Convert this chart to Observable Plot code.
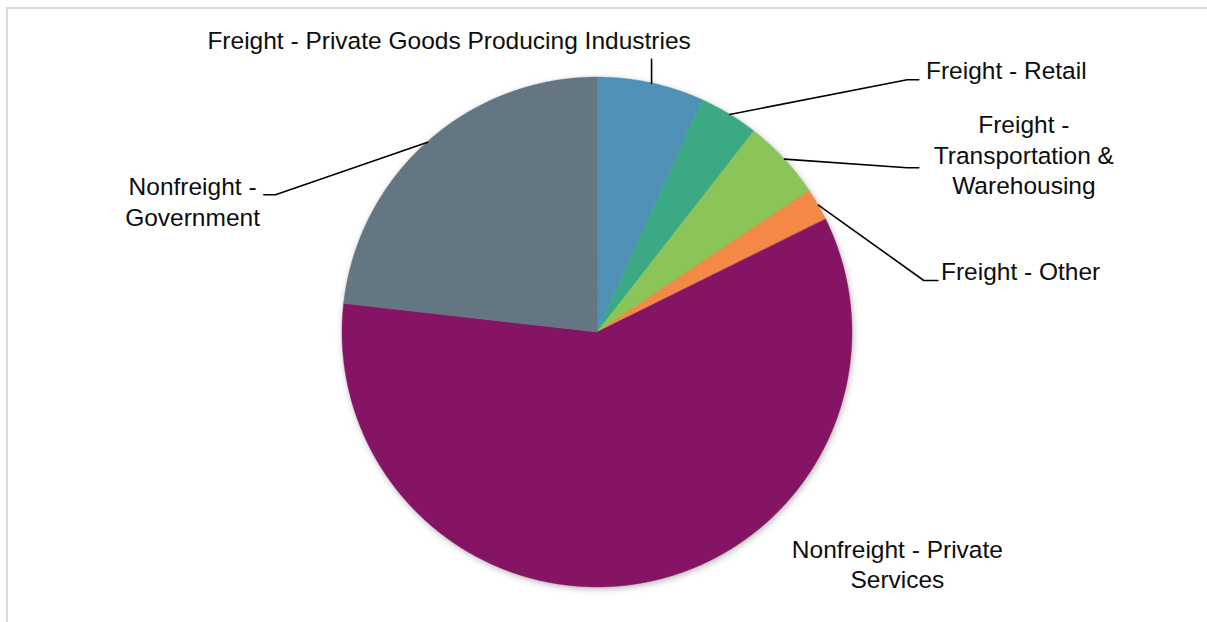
<!DOCTYPE html>
<html>
<head>
<meta charset="utf-8">
<script src="https://cdn.jsdelivr.net/npm/d3@7"></script>
<script src="https://cdn.jsdelivr.net/npm/@observablehq/plot@0.6"></script>
<style>
  html, body { margin: 0; padding: 0; background: #fff; }
  #wrap { position: relative; width: 1207px; height: 622px; overflow: hidden; }
  #frame { position: absolute; left: 6px; top: 7px; right: -10px; bottom: -10px;
           border-left: 2px solid #d9d9d9; border-top: 2px solid #d9d9d9; }
  #chart { position: absolute; left: 0; top: 0; }
</style>
</head>
<body>
<div id="wrap"><div id="frame"></div><div id="chart"></div></div>
<script>
// ---- data ----
const categories = [
  "Freight - Private Goods Producing Industries",
  "Freight - Retail",
  "Freight - Transportation & Warehousing",
  "Freight - Other",
  "Nonfreight - Private Services",
  "Nonfreight - Government"
];
const shares = [6.8, 3.75, 5.1, 2.05, 59.1, 23.2];
const labelTexts = [
  "Freight - Private Goods Producing Industries",
  "Freight - Retail",
  "Freight -\nTransportation &\nWarehousing",
  "Freight - Other",
  "Nonfreight - Private\nServices",
  "Nonfreight -\nGovernment"
];
const colors = ["#4f91b6", "#3baa84", "#8bc55a", "#f48847", "#851465", "#637681"];

// ---- layout (unit-radius coordinates, y up) ----
const labelPos = [
  {x: -0.582, y: 1.149, anchor: "middle"},
  {x: 1.288, y: 1.033, anchor: "start"},
  {x: 1.672, y: 0.700, anchor: "middle"},
  {x: 1.347, y: 0.242, anchor: "start"},
  {x: 1.176, y: -0.905, anchor: "middle"},
  {x: -1.588, y: 0.517, anchor: "middle"}
];
const leaderPaths = [
  [{fromEdgeX: true, y: 1.071}],
  [{x: 1.2145, y: 0.991}, {x: 1.260, y: 0.991}],
  [{x: 1.2145, y: 0.646}, {x: 1.260, y: 0.646}],
  [{x: 1.2797, y: 0.204}, {x: 1.3346, y: 0.204}],
  null,
  [{x: -1.2627, y: 0.540}, {x: -1.3086, y: 0.540}]
];

// ---- geometry from data ----
const total = d3.sum(shares);
let cum = 0;
const slices = categories.map((name, i) => {
  const a0 = cum / total * 2 * Math.PI;
  cum += shares[i];
  const a1 = cum / total * 2 * Math.PI;
  return {name, a0, a1, mid: (a0 + a1) / 2};
});

const arcPts = [];
for (const s of slices) {
  const n = Math.max(2, Math.ceil((s.a1 - s.a0) / (Math.PI / 720)));
  for (let k = 0; k <= n; k++) {
    const a = s.a0 + (s.a1 - s.a0) * k / n;
    arcPts.push({name: s.name, x: Math.sin(a), y: Math.cos(a), cx: 0, cy: 0});
  }
}

const leaderPts = [];
slices.forEach((s, i) => {
  const path = leaderPaths[i];
  if (!path) return;
  const ex = Math.sin(s.mid), ey = Math.cos(s.mid);
  leaderPts.push({name: s.name, x: ex, y: ey});
  for (const p of path) {
    leaderPts.push({name: s.name, x: p.fromEdgeX ? ex : p.x, y: p.y});
  }
});

const labels = categories.map((name, i) => ({name, text: labelTexts[i], ...labelPos[i]}));

const font = "'Liberation Sans', Arial, sans-serif";
const textOpts = {x: "x", y: "y", text: "text", lineAnchor: "middle", fontSize: 24.5,
  lineHeight: 1.237, fill: "#0d0d0d", fontFamily: font};

const chart = Plot.plot({
  width: 1207,
  height: 622,
  marginLeft: 342,
  marginRight: 355,
  marginTop: 77,
  marginBottom: 35,
  style: {fontFamily: font, background: "transparent", overflow: "visible"},
  x: {domain: [-1, 1], axis: null},
  y: {domain: [-1, 1], axis: null},
  color: {domain: categories, range: colors},
  marks: [
    Plot.area(arcPts, {x1: "x", y1: "y", x2: "cx", y2: "cy", z: "name", fill: "name",
      stroke: "name", strokeWidth: 0.4, curve: "linear"}),
    Plot.line(leaderPts, {x: "x", y: "y", z: "name", stroke: "#000", strokeWidth: 1.6}),
    Plot.text(labels.filter(d => d.anchor === "middle"), {...textOpts, textAnchor: "middle"}),
    Plot.text(labels.filter(d => d.anchor === "start"), {...textOpts, textAnchor: "start"})
  ]
});

const areaG = chart.querySelector('g[aria-label="area"]');
if (areaG) areaG.style.filter = "drop-shadow(1px 2px 3px rgba(0,0,0,0.28))";

document.getElementById("chart").appendChild(chart);
</script>
</body>
</html>
